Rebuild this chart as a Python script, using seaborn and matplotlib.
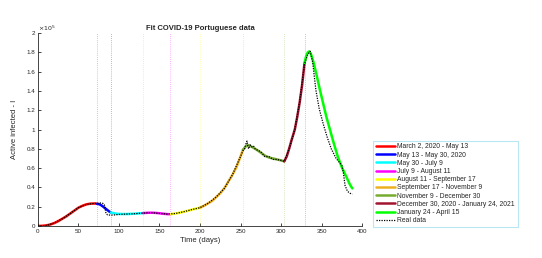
import matplotlib
matplotlib.use("Agg")
import matplotlib.pyplot as plt
import seaborn as sns
import numpy as np

# --- DATA (active infected, units of 1e5) ---
SEG_LABELS = [
    "March 2, 2020 - May 13",
    "May 13 - May 30, 2020",
    "May 30 - July 9",
    "July 9 - August 11",
    "August 11 - September 17",
    "September 17 - November 9",
    "November 9 - December 30",
    "December 30, 2020 - January 24, 2021",
    "January 24 - April 15",
]
SEG_COLORS = ["#FF0000", "#0000FF", "#00FFFF", "#FF00FF", "#FFFF00",
              "#EDB120", "#77AC30", "#A2142F", "#00FF00"]

seg_days = [
    [0, 5, 10, 15, 20, 25, 30, 35, 40, 45, 50, 55, 60, 65, 70, 73],
    [73, 76, 79, 82, 85, 88, 90],
    [90, 95, 100, 105, 110, 115, 120, 125, 130],
    [130, 135, 140, 145, 150, 155, 160, 163],
    [163, 170, 175, 180, 185, 190, 195, 200],
    [200, 205, 210, 215, 220, 225, 230, 235, 240, 245, 250, 253],
    [253, 256, 259, 262, 266, 270, 275, 280, 285, 290, 295, 300, 304],
    [304, 307, 310, 313, 317, 320, 323, 326, 329],
    [329, 331, 333, 335, 337, 340, 344, 348, 352, 356, 360, 365, 370, 375, 380, 385, 388],
]
seg_vals = [
    [0, 0.002, 0.006, 0.015, 0.03, 0.05, 0.075, 0.10, 0.13, 0.16, 0.19, 0.21, 0.225, 0.232, 0.233, 0.23],
    [0.23, 0.225, 0.21, 0.19, 0.17, 0.15, 0.14],
    [0.14, 0.13, 0.125, 0.124, 0.124, 0.126, 0.128, 0.131, 0.134],
    [0.134, 0.137, 0.138, 0.136, 0.132, 0.127, 0.123, 0.122],
    [0.122, 0.13, 0.138, 0.148, 0.158, 0.17, 0.18, 0.19],
    [0.19, 0.21, 0.235, 0.26, 0.30, 0.34, 0.39, 0.46, 0.53, 0.61, 0.72, 0.79],
    [0.79, 0.82, 0.84, 0.83, 0.81, 0.79, 0.76, 0.73, 0.71, 0.70, 0.69, 0.68, 0.67],
    [0.67, 0.72, 0.80, 0.89, 1.0, 1.13, 1.28, 1.46, 1.69],
    [1.69, 1.76, 1.80, 1.81, 1.78, 1.70, 1.56, 1.41, 1.27, 1.13, 1.01, 0.86, 0.72, 0.61, 0.52, 0.43, 0.39],
]
breaks = [73, 90, 130, 163, 200, 253, 304, 329]

real_days = [0, 10, 20, 30, 40, 50, 60, 65, 70, 75, 78, 80, 82, 84, 86, 90, 95, 100, 110, 120,
             130, 140, 150, 160, 170, 180, 190, 200, 210, 220, 230, 240, 250, 253, 255, 257,
             258, 259, 260, 262, 264, 266, 268, 270, 275, 280, 285, 290, 295, 300, 304, 310,
             317, 323, 329, 333, 336, 339, 343, 347, 352, 357, 362, 368, 375, 377, 379, 382,
             385, 388]
real_vals = [0, 0.005, 0.03, 0.075, 0.13, 0.19, 0.225, 0.23, 0.235, 0.235, 0.24, 0.235, 0.22,
             0.13, 0.115, 0.113, 0.115, 0.12, 0.124, 0.128, 0.134, 0.138, 0.131, 0.123, 0.13,
             0.148, 0.17, 0.19, 0.235, 0.30, 0.39, 0.53, 0.72, 0.78, 0.80, 0.86, 0.88, 0.83,
             0.80, 0.84, 0.82, 0.83, 0.80, 0.79, 0.77, 0.72, 0.72, 0.69, 0.69, 0.68, 0.67,
             0.80, 1.0, 1.29, 1.68, 1.78, 1.81, 1.70, 1.41, 1.22, 1.06, 0.92, 0.80, 0.70,
             0.63, 0.55, 0.42, 0.36, 0.34, 0.33]

# --- PLOT ---
sns.set_theme(style="white")
plt.rcParams["font.family"] = ["Liberation Sans", "DejaVu Sans"]

fig = plt.figure(figsize=(5.42, 2.58), dpi=100)
ax = fig.add_axes([0.070, 0.124, 0.598, 0.748])

# segment boundaries, light dotted
for b, c in zip(breaks, SEG_COLORS[:-1]):
    ax.axvline(b, color=c, ls=(0, (1, 1.5)), lw=0.6, alpha=0.4, zorder=1)

handles = []
for d, v, c, lab in zip(seg_days, seg_vals, SEG_COLORS, SEG_LABELS):
    sns.lineplot(x=d, y=v, color=c, lw=1.8, ax=ax, label=lab, legend=False, zorder=2)
    handles.append(ax.lines[-1])

sns.lineplot(x=real_days, y=real_vals, color="black", lw=0.9, ls=(0, (1, 1)), ax=ax,
             label="Real data", legend=False, zorder=3)
handles.append(ax.lines[-1])

ax.set_xlim(0, 400)
ax.set_ylim(0, 2)
ax.set_xticks(np.arange(0, 401, 50))
yt = np.arange(0, 2.01, 0.2)
ax.set_yticks(yt)
ax.set_yticklabels([f"{t:g}" for t in yt])
ax.tick_params(direction="in", length=2.5, width=0.6, labelsize=4.5, pad=2,
               colors="#262626", left=True, bottom=True)
for s in ["top", "right"]:
    ax.spines[s].set_visible(False)
for s in ["left", "bottom"]:
    ax.spines[s].set_color("#262626")
    ax.spines[s].set_linewidth(0.6)

ax.text(0.0, 1.0, r"$\times10^5$", transform=ax.transAxes, fontsize=4.5,
        ha="left", va="bottom")
ax.set_title("Fit COVID-19 Portuguese data", fontsize=5.5, fontweight="bold", pad=2)
ax.set_xlabel("Time (days)", fontsize=5.5, labelpad=2)
ax.set_ylabel("Active infected - I", fontsize=5.5, labelpad=6)

leg = fig.legend(handles=handles, labels=SEG_LABELS + ["Real data"], loc="lower left",
                 bbox_to_anchor=(0.688, 0.12), fontsize=4.9, frameon=True, fancybox=False,
                 handlelength=2.9, handletextpad=0.3, labelspacing=0.18, borderpad=0.4,
                 borderaxespad=0)
leg.get_frame().set_edgecolor("#A8E0F0")
leg.get_frame().set_linewidth(0.8)

fig.savefig("out.png", dpi=100)
